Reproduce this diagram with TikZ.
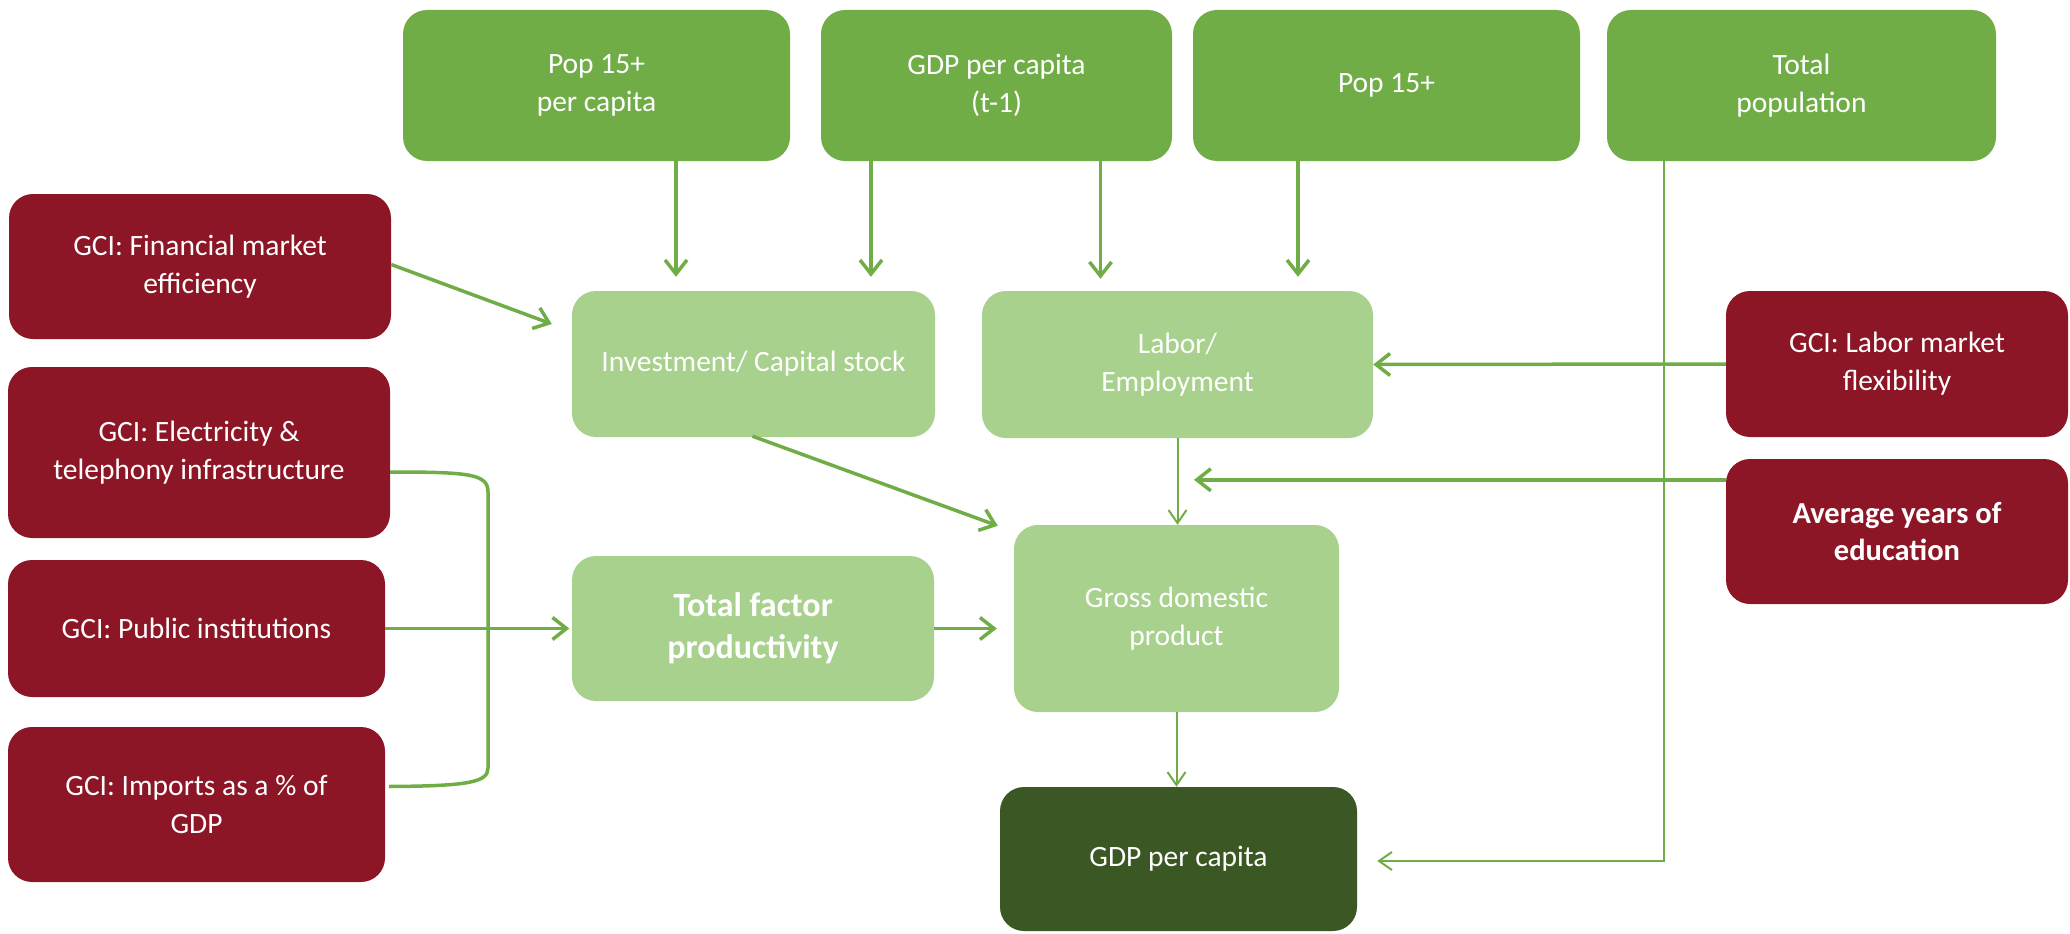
\documentclass[tikz,border=0pt]{standalone}
\usepackage{fontspec}
\setmainfont{Carlito}
\usetikzlibrary{arrows.meta,calc}
\definecolor{topgreen}{HTML}{70AD47}
\definecolor{midgreen}{HTML}{A9D18E}
\definecolor{darkgreen}{HTML}{3A5724}
\definecolor{gcired}{HTML}{8C1526}
\definecolor{linkgreen}{HTML}{70AD47}
\begin{document}
\begin{tikzpicture}[x=1pt,y=-1pt,
  box/.style={rectangle, rounded corners=24pt, inner sep=0pt, align=center,
    text=white, font=\fontsize{29.5}{38}\selectfont},
  inputbox/.style={box, fill=topgreen},
  factorbox/.style={box, fill=midgreen},
  gcibox/.style={box, fill=gcired},
  outbox/.style={box, fill=darkgreen},
  flowthick/.style={draw=linkgreen, line width=3.5pt,
    -{Straight Barb[length=14pt,width=22pt]}},
  flowthin/.style={draw=linkgreen, line width=2pt,
    -{Straight Barb[length=13pt,width=18pt]}},
]
\useasboundingbox (0,0) rectangle (2070,934);

% top row: input variables
\node[inputbox, minimum width=387pt, minimum height=151pt] (popPC)  at (596.5,85.5)  {Pop 15+\\per capita};
\node[inputbox, minimum width=351pt, minimum height=151pt] (gdpLag) at (996.5,85.5)  {GDP per capita\\(t-1)};
\node[inputbox, minimum width=387pt, minimum height=151pt] (pop15)  at (1386.5,85.5) {Pop 15+};
\node[inputbox, minimum width=389pt, minimum height=151pt] (totPop) at (1801.5,85.5) {Total\\population};

% left column: GCI drivers
\node[gcibox, minimum width=382pt, minimum height=145pt] (fin)  at (200,266.5)  {GCI: Financial market\\efficiency};
\node[gcibox, minimum width=382pt, minimum height=171pt] (elec) at (199,452.5)  {GCI: Electricity \&\\telephony infrastructure};
\node[gcibox, minimum width=377pt, minimum height=137pt] (pub)  at (196.5,628.5) {GCI: Public institutions};
\node[gcibox, minimum width=377pt, minimum height=155pt] (imp)  at (196.5,804.5) {GCI: Imports as a \% of\\GDP};

% production factors
\node[factorbox, minimum width=363pt, minimum height=146pt] (inv) at (753.5,364)   {Investment/ Capital stock};
\node[factorbox, minimum width=391pt, minimum height=147pt] (lab) at (1177.5,364.5) {Labor/\\Employment};
\node[factorbox, minimum width=362pt, minimum height=145pt,
      font=\fontsize{34}{42}\selectfont\bfseries] (tfp) at (753,628.5) {Total factor\\productivity};
\node[factorbox, minimum width=325pt, minimum height=187pt] (gdp) at (1176.5,618.5) {Gross domestic\\product};

% output
\node[outbox, minimum width=357pt, minimum height=144pt] (gdppc) at (1178.5,859) {GDP per capita};

% right column: labour-side drivers
\node[gcibox, minimum width=342pt, minimum height=146pt] (lmf) at (1897,364)   {GCI: Labor market\\flexibility};
\node[gcibox, minimum width=342pt, minimum height=145pt,
      font=\fontsize{30.5}{37}\selectfont\bfseries] (edu) at (1897,531.5) {Average years of\\education};

% inputs feeding capital and labour
\draw[flowthick] (676,0 |- popPC.south)  -- ($(676,0 |- inv.north)+(0,-14)$);
\draw[flowthick] (871,0 |- gdpLag.south) -- ($(871,0 |- inv.north)+(0,-14)$);
\draw[flowthick] (1100.5,0 |- gdpLag.south) -- ($(1100.5,0 |- lab.north)+(0,-12)$);
\draw[flowthick] (1298,0 |- pop15.south) -- ($(1298,0 |- lab.north)+(0,-14)$);

% financial efficiency into investment
\draw[flowthick] ($(fin.east)+(0,-2)$) -- ($(inv.west)+(-20,-40)$);

% factors into GDP
\draw[flowthick] ($(inv.south)+(-1,-1)$) -- ($(gdp.north west)+(-16,1)$);
\draw[flowthick, shorten >=17pt] (tfp.east) -- (tfp.east -| gdp.west);
\draw[flowthick] (pub.east) -- ($(tfp.west)+(-2.5,0)$);

% bracket joining infrastructure and imports to the TFP link
\coordinate (brk) at (488,628.5);
\draw[draw=linkgreen, line width=3.5pt]
  ($(elec.east)+(0,19.5)$) .. controls (470,472) and (488,474) .. (brk |- 0,492)
  -- (brk |- 0,768) .. controls (488,782) and (470,786) .. ($(imp.east)+(4,-18)$);

% labour-side drivers
\draw[flowthick] (lmf.west) -- (lab.east);
\coordinate (eduIn) at ($(gdp.north)+(17.5,-45)$);
\draw[flowthick] (edu.west |- eduIn) -- (eduIn);

% thin links to GDP and GDP per capita
\draw[flowthin] (lab.south) -- (lab.south |- gdp.north);
\draw[flowthin] (gdp.south) -- (gdp.south |- gdppc.north);
\draw[flowthin] ($(totPop.south west)+(57,0)$) |- ($(gdppc.east)+(20,2)$);
\end{tikzpicture}
\end{document}
